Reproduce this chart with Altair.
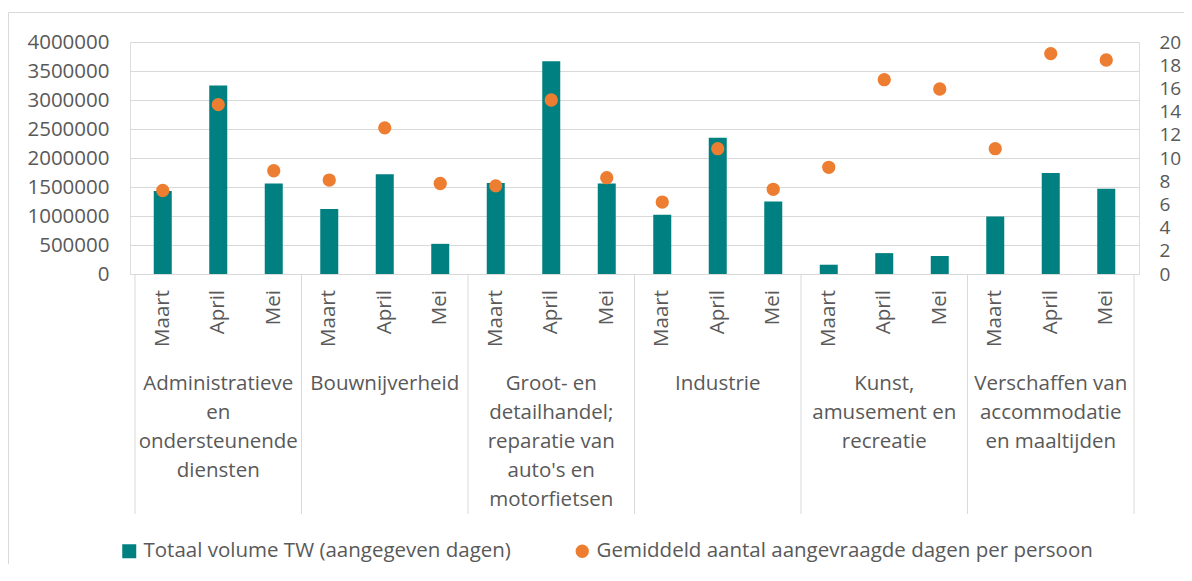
import altair as alt
import pandas as pd

# ---- data ----
groups = [
    "Administratieve en ondersteunende diensten",
    "Bouwnijverheid",
    "Groot- en detailhandel; reparatie van auto's en motorfietsen",
    "Industrie",
    "Kunst, amusement en recreatie",
    "Verschaffen van accommodatie en maaltijden",
]
group_labels = [
    "Administratieve\nen\nondersteunende\ndiensten",
    "Bouwnijverheid",
    "Groot- en\ndetailhandel;\nreparatie van\nauto's en\nmotorfietsen",
    "Industrie",
    "Kunst,\namusement en\nrecreatie",
    "Verschaffen van\naccommodatie\nen maaltijden",
]
months = ["Maart", "April", "Mei"]
volume = [1430000, 3250000, 1560000,
          1120000, 1720000, 520000,
          1570000, 3670000, 1560000,
          1020000, 2350000, 1250000,
          160000, 360000, 310000,
          990000, 1740000, 1470000]
days = [7.2, 14.6, 8.9,
        8.1, 12.6, 7.8,
        7.6, 15.0, 8.3,
        6.2, 10.8, 7.3,
        9.2, 16.75, 15.95,
        10.8, 19.0, 18.45]
series = ["Totaal volume TW (aangegeven dagen)",
          "Gemiddeld aantal aangevraagde dagen per persoon"]
left_ticks = [0, 500000, 1000000, 1500000, 2000000, 2500000, 3000000, 3500000, 4000000]
right_ticks = [0, 2, 4, 6, 8, 10, 12, 14, 16, 18, 20]

# ---- tables ----
rows = []
for gi, g in enumerate(groups):
    for mi, m in enumerate(months):
        i = gi * len(months) + mi
        rows.append({"pos": i + 0.5, "group": g, "month": m,
                     "volume": volume[i], "days": days[i],
                     "s1": series[0], "s2": series[1]})
df = pd.DataFrame(rows)
n = len(rows)
df_sep = pd.DataFrame({"b": [gi * len(months) for gi in range(len(groups) + 1)]})
df_grp = pd.DataFrame({"c": [gi * len(months) + len(months) / 2 for gi in range(len(groups))],
                       "label": group_labels})

FONT = "Open Sans"
FS = 20.5
TXT = "#595959"
GRID = "#d9d9d9"
TEAL = "#008080"
ORANGE = "#ED7D31"

PAD_L = 122

xscale = alt.Scale(domain=[0, n], nice=False, zero=False)

border = alt.Chart(pd.DataFrame({"a": [0]})).mark_rect(
    filled=False, stroke=GRID, strokeWidth=1
).encode(x=alt.value(-PAD_L + 0.5), x2=alt.value(1300), y=alt.value(-29.5), y2=alt.value(700))

bars = alt.Chart(df).mark_bar(width=18).encode(
    x=alt.X("pos:Q", scale=xscale, axis=None),
    y=alt.Y("volume:Q", scale=alt.Scale(domain=[0, 4000000], nice=False),
            axis=alt.Axis(values=left_ticks, format="d", title=None, ticks=False, tickSize=0,
                          domain=False, labelPadding=21, labelFont=FONT, labelFontSize=FS,
                          labelColor=TXT, grid=True, gridColor=GRID, gridWidth=1)),
    color=alt.Color("s1:N", scale=alt.Scale(domain=[series[0]], range=[TEAL]),
                    legend=alt.Legend(title=None, orient="none", legendX=-11, legendY=499,
                                      symbolType="square", symbolSize=196, symbolStrokeWidth=0,
                                      labelFont=FONT, labelFontSize=FS, labelColor=TXT,
                                      labelOffset=4, padding=0, symbolOpacity=1, labelLimit=0)),
)

points = alt.Chart(df).mark_circle(size=177, opacity=1).encode(
    x=alt.X("pos:Q", scale=xscale, axis=None),
    y=alt.Y("days:Q", scale=alt.Scale(domain=[0, 20], nice=False),
            axis=alt.Axis(orient="right", values=right_ticks, title=None, ticks=False, tickSize=0,
                          domain=False, labelPadding=20, labelFont=FONT, labelFontSize=19,
                          labelColor=TXT, grid=False, labelOverlap=False)),
    color=alt.Color("s2:N", scale=alt.Scale(domain=[series[1]], range=[ORANGE]),
                    legend=alt.Legend(title=None, orient="none", legendX=442, legendY=499,
                                      symbolType="circle", symbolSize=177, symbolStrokeWidth=0,
                                      labelFont=FONT, labelFontSize=FS, labelColor=TXT,
                                      labelOffset=4, padding=0, symbolOpacity=1, labelLimit=0)),
)

month_text = alt.Chart(df).mark_text(
    angle=270, align="right", baseline="middle", font=FONT, fontSize=FS, color=TXT
).encode(x=alt.X("pos:Q", scale=xscale, axis=None), y=alt.value(248), text="month:N")

seps = alt.Chart(df_sep).mark_rule(color=GRID, strokeWidth=1).encode(
    x=alt.X("b:Q", scale=xscale, axis=None), y=alt.value(232), y2=alt.value(472))

grp_text = alt.Chart(df_grp).mark_text(
    align="center", baseline="top", lineBreak="\n", lineHeight=29,
    font=FONT, fontSize=FS, color=TXT
).encode(x=alt.X("c:Q", scale=xscale, axis=None), y=alt.value(332), text="label:N")

chart = alt.layer(border, bars, points, seps, month_text, grp_text).resolve_scale(
    y="independent", color="independent"
).properties(
    width=1009, height=232,
    padding={"left": PAD_L, "top": 34, "right": 45, "bottom": 290},
    autosize=alt.AutoSizeParams(type="none"),
).configure_view(stroke=None).configure(background="white")

chart.save("out.html", embed_options={"renderer": "svg", "actions": False})
